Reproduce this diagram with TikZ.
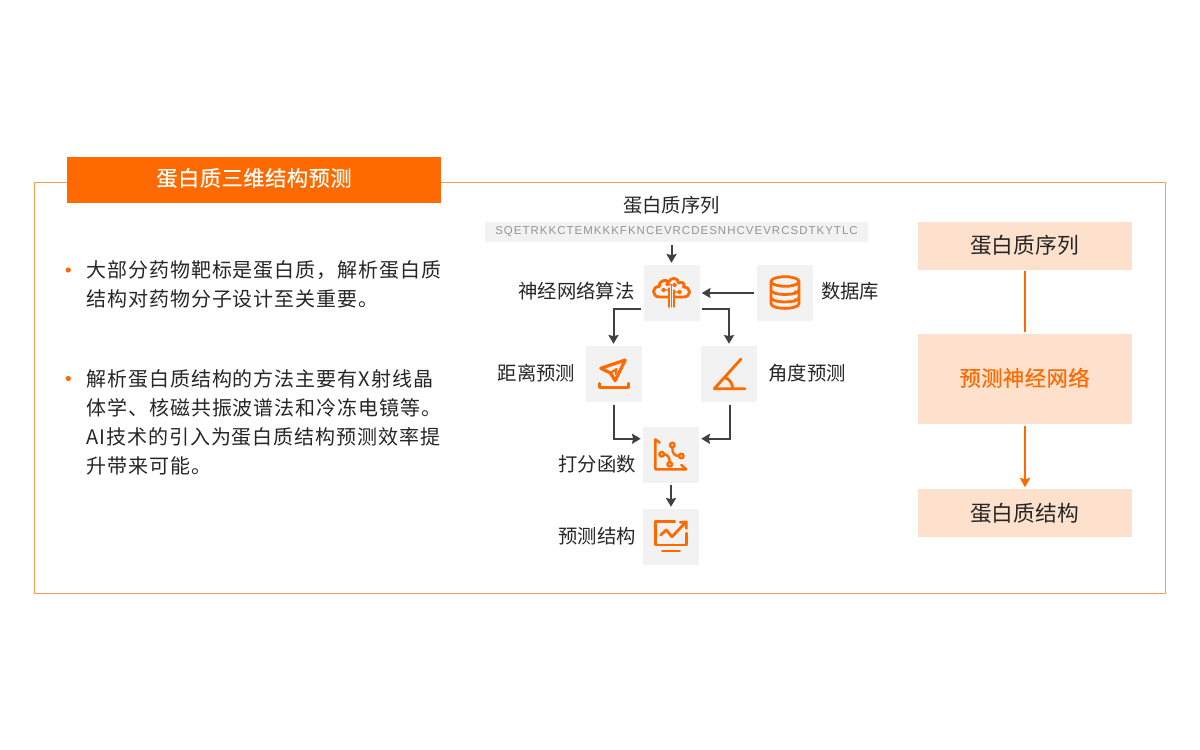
\documentclass[tikz,border=0pt]{standalone}
\usepackage{fontspec}
\setmainfont{Noto Sans CJK SC}
\newfontfamily\bodyfont[LetterSpace=4.8]{Noto Sans CJK SC}
\newfontfamily\headfont[LetterSpace=2,FakeBold=0.35]{Noto Sans CJK SC}
\newfontfamily\seqfont[LetterSpace=9]{Liberation Sans}
\usetikzlibrary{arrows.meta}

\definecolor{mainorange}{HTML}{FF6A00}
\definecolor{frameorange}{HTML}{FF9A52}
\definecolor{softorange}{HTML}{FEE1CC}
\definecolor{iconbg}{HTML}{F2F2F2}
\definecolor{arrowgray}{HTML}{404040}
\definecolor{textgray}{HTML}{262626}

\tikzset{
	iconbox/.style={fill=iconbg, inner sep=0pt, minimum size=42pt},
	flowbox/.style={fill=softorange, inner sep=0pt, minimum width=160.5pt, minimum height=36pt, text=textgray, font=\fontsize{16.3}{16.3}\selectfont},
	textlabel/.style={inner sep=0pt, text=textgray, font=\fontsize{14.5}{14.5}\selectfont},
	bodyline/.style={anchor=west, inner sep=0pt, text=textgray, font=\bodyfont\fontsize{15}{15}\selectfont},
	flow/.style={arrowgray, line width=1.5pt, -{Stealth[length=6.5pt,width=7.5pt,inset=0.8pt]}, shorten >=1.5pt},
	flowout/.style={mainorange, line width=1.5pt, shorten <=1pt, shorten >=1pt},
	icon/.style={mainorange, line width=2.1pt, line cap=round, line join=round}
}

\begin{document}
\begin{tikzpicture}[x=0.75pt, y=-0.75pt]
	\useasboundingbox (0,0) rectangle (1200,750);
	% outer frame and heading
	\draw [frameorange, line width=0.9pt] (34.5,182.5) rectangle (1165.5,593.5);
	\node (head) [fill=mainorange, inner sep=0pt, minimum width=280.5pt, minimum height=34.5pt, text=white, font=\headfont\fontsize{16}{16}\selectfont] at (254,180) {\raisebox{-4.5pt}[0pt][0pt]{蛋白质三维结构预测}};

	% left column
	\fill [mainorange] (68.3,270) circle(2.6);
	\fill [mainorange] (68.3,378.5) circle(2.6);
	\foreach \y/\t [count=\i] in {
		270/大部分药物靶标是蛋白质，解析蛋白质,
		299/结构对药物分子设计至关重要。,
		379/解析蛋白质结构的方法主要有X射线晶,
		408/体学、核磁共振波谱法和冷冻电镜等。,
		437/AI技术的引入为蛋白质结构预测效率提,
		466/升带来可能。}
		\node (line\i) [bodyline] at (86,\y) {\t};

	% sequence strip
	\node (seqtitle) [textlabel] at (671.5,205) {蛋白质序列};
	\node (seq) [fill=iconbg, inner sep=0pt, minimum width=287.25pt, minimum height=15pt, text=black!42, font=\seqfont\fontsize{8.6}{8.6}\selectfont] at (676.5,232) {SQETRKKCTEMKKKFKNCEVRCDESNHCVEVRCSDTKYTLC};

	% icon boxes
	\node (brain) [iconbox] at (671.5,293) {};
	\node (db) [iconbox] at (785,293) {};
	\node (dist) [iconbox] at (613.5,374) {};
	\node (angle) [iconbox] at (729,374) {};
	\node (score) [iconbox] at (671,455) {};
	\node (result) [iconbox] at (671,537) {};

	% labels next to the boxes
	\node (brainlabel) [textlabel] at (576.5,291) {神经网络算法};
	\node (dblabel) [textlabel] at (850,291) {数据库};
	\node (distlabel) [textlabel] at (536.5,373) {距离预测};
	\node (anglelabel) [textlabel] at (807,373) {角度预测};
	\node (scorelabel) [textlabel] at (597,464) {打分函数};
	\node (resultlabel) [textlabel] at (597,536) {预测结构};

	% connectors
	\draw [flow, shorten <=2pt] (seq.south -| brain.center) -- (brain.north);
	\draw [flow, shorten <=2pt] (db.west) -- (brain.east);
	\draw [flow] ([shift={(-2,-12)}]brain.south west) -| (dist.north);
	\draw [flow] ([shift={(2,-12)}]brain.south east) -| (angle.north);
	\draw [flow, shorten <=2pt] (dist.south) |- ([yshift=-9pt]score.north west);
	\draw [flow, shorten <=2pt] ([xshift=1.1pt]angle.south) |- ([yshift=-9pt]score.north east);
	\draw [flow, shorten <=1pt] (score.south) -- (result.north);

	% neural network icon
	\begin{scope}[shift={(brain.center)}]
		\draw [icon] (-4,4) -- (-12,4) .. controls (-20,4) and (-20,-7) .. (-12,-6.5) .. controls (-13,-13) and (-5,-14) .. (-3,-11) .. controls (-1,-16) and (7,-16) .. (7,-10) .. controls (11,-12) and (14,-9) .. (12,-6) .. controls (20,-6) and (20,4) .. (12,4) -- (4,4);
		\draw [icon, line width=1.1pt] (-2.5,-5) -- (-2.5,14) (0,-8) -- (0,14) (2.5,-3) -- (2.5,14);
		\draw [icon, line width=1.1pt] (-2.5,-3) -- (-7,-3) (2.5,-1) -- (7,-1) (0,-8) -- (-3,-9);
		\foreach \a/\b in {-8/-3, 8/-1, -4/-9, 3/-8}
			\draw [icon, line width=1.1pt] (\a,\b) circle(1.5);
	\end{scope}

	% database icon
	\begin{scope}[shift={(db.center)}]
		\draw [icon] (0,-11.5) ellipse [x radius=14, y radius=4.8];
		\draw [icon] (-14,-11.5) -- (-14,10.5) .. controls (-14,17) and (14,17) .. (14,10.5) -- (14,-11.5);
		\draw [icon] (-14,-3) .. controls (-14,3) and (14,3) .. (14,-3);
		\draw [icon] (-14,4.5) .. controls (-14,10.5) and (14,10.5) .. (14,4.5);
		\foreach \b in {-2, 6, 13}
			\fill [mainorange] (10,\b) circle(1);
	\end{scope}

	% distance icon
	\begin{scope}[shift={(dist.center)}]
		\draw [icon, line width=2.4pt] (11.7,-14) -- (-12.7,-5.7) -- (-3,-1) -- (1.7,6.7) -- cycle;
		\draw [icon, line width=1.5pt] (-3,-1) -- (3,-5) -- (2,0);
		\draw [icon, line width=2.4pt] (-14.3,9.5) -- (-14.3,13.7) -- (15,13.7) -- (15,9.5);
	\end{scope}

	% angle icon
	\begin{scope}[shift={(angle.center)}]
		\draw [icon] (12,-15) -- (-14.7,14.7) -- (16,14.7);
		\draw [icon] (-4.8,3.7) .. controls (-0.5,3.7) and (3.7,9) .. (3.7,14.7);
	\end{scope}

	% scoring icon
	\begin{scope}[shift={(score.center)}]
		\draw [icon, line width=1.8pt] (-11.3,-12.3) -- (-15.7,-15.7) -- (-15.7,14.3) -- (15.3,14.3) -- (10.3,10);
		\draw [icon, line width=1.8pt] (1.3,-7.7) .. controls (1.3,-2) and (3,1) .. (8,1);
		\draw [icon, line width=1.8pt] (-7,-0.7) .. controls (-3,-0.7) and (-1.3,3) .. (-1.3,7);
		\foreach \a/\b in {1.3/-10, 10.3/1, -9.3/-0.7, -1.3/9.3}
			\draw [icon, line width=1.8pt] (\a,\b) circle(2.3);
	\end{scope}

	% result icon
	\begin{scope}[shift={(result.center)}]
		\draw [icon] (3.7,-15.3) -- (-15.3,-15.3) -- (-15.3,8) -- (15.3,8) -- (15.3,-3.7);
		\draw [icon] (-8.7,14) -- (8.7,14);
		\draw [icon] (-10.3,-2) -- (-4.7,-7) -- (1,-0.3) -- (13.7,-13.7);
		\draw [icon] (9.3,-14.7) -- (15.3,-15) -- (15.3,-8.7);
	\end{scope}

	% right column
	\node (inbox) [flowbox] at (1024.5,245.5) {蛋白质序列};
	\node (netbox) [flowbox, minimum height=67.5pt, text=mainorange, font=\headfont\fontsize{16}{16}\selectfont] at (1024.5,379) {\raisebox{-5.3pt}[0pt][0pt]{预测神经网络}};
	\node (outbox) [flowbox] at (1024.5,513) {蛋白质结构};
	\draw [flowout] ([xshift=0.375pt]inbox.south) -- ([xshift=0.375pt]netbox.north);
	\draw [flowout, -{Stealth[length=7pt,width=7.5pt,inset=0.8pt]}] ([xshift=0.375pt]netbox.south) -- ([xshift=0.375pt]outbox.north);
\end{tikzpicture}
\end{document}
